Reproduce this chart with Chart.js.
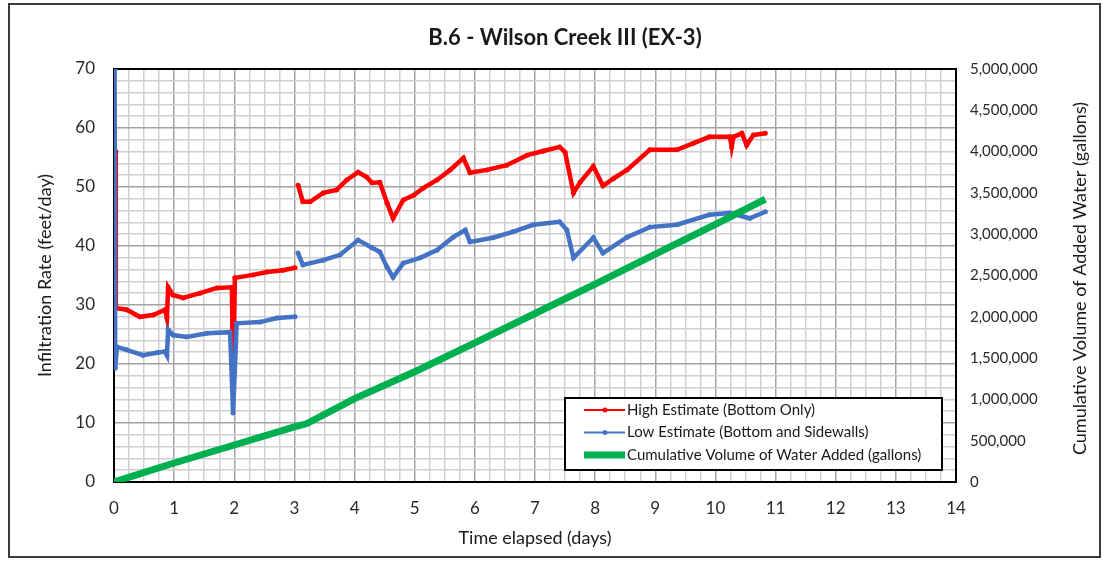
<!DOCTYPE html>
<html>
<head>
<meta charset="utf-8">
<title>B.6 - Wilson Creek III (EX-3)</title>
<script src="https://cdn.jsdelivr.net/npm/chart.js@4.4.1/dist/chart.umd.min.js"></script>
<style>
  body { margin: 0; background: #fff; }
  #wrap { width: 1104px; height: 562px; }
</style>
</head>
<body>
<div id="wrap"><canvas id="chart" width="1104" height="562"></canvas></div>
<script>
// Values
const highDays = [0, 0, 0.03, 0.03, 0.21, 0.43, 0.65, 0.85, 0.88, 0.9, 0.98, 1.15, 1.43, 1.71, 1.96, 1.98, 2.01, 2.31, 2.54, 2.81, 3.01,
    3.03, 3.06, 3.14, 3.26, 3.48, 3.7, 3.87, 4.06, 4.2, 4.29, 4.42, 4.54, 4.64, 4.81, 4.98, 5.14, 5.37, 5.59, 5.81, 5.92,
    6.2, 6.53, 6.87, 7.14, 7.41, 7.5, 7.64, 7.75, 7.97, 8.13, 8.3, 8.53, 8.91, 9.36, 9.63, 9.9, 10.24, 10.27, 10.3, 10.44,
    10.52, 10.63, 10.83];
const highRate = [52.5, 28, 56, 29.5, 29.2, 28, 28.3, 29.2, 27.8, 33, 31.7, 31.2, 32, 32.9, 33, 15, 34.6, 35.1, 35.6, 35.9, 36.3,
    null, 50.3, 47.5, 47.5, 49, 49.5, 51.2, 52.5, 51.7, 50.7, 50.8, 47.3, 44.7, 47.8, 48.6, 49.8, 51.2, 52.9, 54.9, 52.4,
    52.9, 53.7, 55.4, 56.1, 56.8, 55.9, 49, 50.8, 53.5, 50.2, 51.4, 52.9, 56.3, 56.3, 57.4, 58.5, 58.5, 56.8, 58.5, 59.1,
    57.1, 58.8, 59.1];

const lowDays = [0, 0.01, 0.02, 0.05, 0.21, 0.48, 0.71, 0.85, 0.88, 0.9, 0.98, 1.21, 1.55, 1.93, 1.98, 2.04, 2.43, 2.71, 3.01,
    3.03, 3.06, 3.14, 3.48, 3.76, 4.06, 4.29, 4.42, 4.54, 4.64, 4.81, 5.09, 5.37, 5.64, 5.84, 5.92, 6.3, 6.63, 6.97,
    7.41, 7.53, 7.64, 7.97, 8.13, 8.53, 8.91, 9.36, 9.9, 10.24, 10.57, 10.83];
const lowRate = [41, 72, 19.3, 22.9, 22.4, 21.5, 21.9, 22.1, 21.5, 25.8, 24.9, 24.6, 25.2, 25.4, 11.7, 26.9, 27.1, 27.8, 28,
    null, 38.8, 36.8, 37.6, 38.5, 41, 39.7, 39, 36.4, 34.7, 37.1, 38, 39.3, 41.5, 42.7, 40.7, 41.4, 42.4, 43.6,
    44.1, 42.7, 38, 41.4, 38.8, 41.5, 43.2, 43.6, 45.3, 45.6, 44.7, 45.8];

const volDays = [0, 1, 2, 3, 3.2, 4, 5, 6, 7, 8, 9, 10, 10.83];
const volGallons = [0, 230000, 448000, 666000, 705000, 1010000, 1335000, 1685000, 2040000, 2395000, 2760000, 3120000, 3426000];

const FONT = "Lato, 'Open Sans', sans-serif";

function toPoints(xs, ys) {
    return xs.map((x, i) => ({ x: x, y: ys[i] }));
}

// Black frame around the plot area, under the data lines
const framePlugin = {
    id: "frame",
    beforeDatasetsDraw(chart) {
        const { ctx, chartArea: a } = chart;
        ctx.save();
        ctx.strokeStyle = "#000";
        ctx.lineWidth = 2;
        ctx.strokeRect(a.left, a.top, a.right - a.left, a.bottom - a.top);
        ctx.restore();
    }
};

// Boxed legend inside the plot, lower right
const legendBoxPlugin = {
    id: "legendBox",
    afterDraw(chart) {
        const ctx = chart.ctx;
        const box = { x: 565, y: 398, w: 377, h: 72 };
        ctx.save();
        ctx.fillStyle = "#fff";
        ctx.fillRect(box.x, box.y, box.w, box.h);
        ctx.strokeStyle = "#000";
        ctx.lineWidth = 2;
        ctx.strokeRect(box.x, box.y, box.w, box.h);
        ctx.font = "15px " + FONT;
        ctx.textBaseline = "middle";
        chart.data.datasets.forEach((ds, i) => {
            const y = box.y + 12 + i * 22.5;
            ctx.strokeStyle = ds.borderColor;
            ctx.lineWidth = ds.pointRadius ? 2 : ds.borderWidth;
            ctx.beginPath();
            ctx.moveTo(box.x + 19, y);
            ctx.lineTo(box.x + 60, y);
            ctx.stroke();
            if (ds.pointRadius) {
                ctx.fillStyle = ds.borderColor;
                ctx.beginPath();
                ctx.arc(box.x + 40, y, 2.5, 0, Math.PI * 2);
                ctx.fill();
            }
            ctx.fillStyle = "#1a1a1a";
            ctx.fillText(ds.label, box.x + 62, y);
        });
        ctx.restore();
    }
};

// Chart title, right axis title (reads bottom-to-top) and the outer border
const extrasPlugin = {
    id: "extras",
    afterDraw(chart) {
        const { ctx, chartArea: a } = chart;
        ctx.save();
        ctx.font = "bold 22px " + FONT;
        ctx.fillStyle = "#1a1a1a";
        ctx.textAlign = "center";
        ctx.textBaseline = "middle";
        ctx.fillText("B.6 - Wilson Creek III (EX-3)", 565, 38);
        ctx.restore();

        ctx.save();
        ctx.translate(1080, (a.top + a.bottom) / 2 + 3);
        ctx.rotate(-Math.PI / 2);
        ctx.font = "18px " + FONT;
        ctx.fillStyle = "#1a1a1a";
        ctx.textAlign = "center";
        ctx.textBaseline = "middle";
        ctx.fillText("Cumulative Volume of Added Water (gallons)", 0, 0);
        ctx.restore();

        ctx.save();
        ctx.strokeStyle = "#3a3a3a";
        ctx.lineWidth = 2;
        ctx.strokeRect(9, 4, 1091, 553);
        ctx.restore();
    }
};

const minorGrid = "#cfcfcf";
const majorGrid = "#a3a3a3";

new Chart(document.getElementById("chart"), {
    type: "line",
    data: {
        datasets: [
            {
                label: "High Estimate (Bottom Only)",
                data: toPoints(highDays, highRate),
                borderColor: "#ff0000",
                backgroundColor: "#ff0000",
                borderWidth: 4.5,
                pointRadius: 2.5,
                pointBorderWidth: 0,
                spanGaps: false,
                yAxisID: "y",
                order: 2
            },
            {
                label: "Low Estimate (Bottom and Sidewalls)",
                data: toPoints(lowDays, lowRate),
                borderColor: "#4472c4",
                backgroundColor: "#4472c4",
                borderWidth: 4.5,
                pointRadius: 2.5,
                pointBorderWidth: 0,
                spanGaps: false,
                yAxisID: "y",
                order: 1
            },
            {
                label: "Cumulative Volume of Water Added (gallons)",
                data: toPoints(volDays, volGallons),
                borderColor: "#00b050",
                backgroundColor: "#00b050",
                borderWidth: 7,
                pointRadius: 0,
                yAxisID: "y2",
                order: 0
            }
        ]
    },
    options: {
        responsive: false,
        animation: false,
        layout: { padding: { top: 69, left: 0, right: 0, bottom: 0 } },
        plugins: {
            legend: { display: false },
            tooltip: { enabled: false },
            title: { display: false }
        },
        scales: {
            x: {
                type: "linear",
                min: 0,
                max: 14,
                afterFit: s => { s.height = 80; },
                border: { display: false },
                grid: {
                    drawTicks: false,
                    lineWidth: 1.5,
                    color: c => Number.isInteger(c.tick.value) ? majorGrid : minorGrid
                },
                ticks: {
                    stepSize: 0.25,
                    autoSkip: false,
                    maxRotation: 0,
                    padding: 16,
                    color: "#2a2a2a",
                    font: { family: FONT, size: 17 },
                    callback: v => Number.isInteger(v) ? v : ""
                },
                title: {
                    display: true,
                    text: "Time elapsed (days)",
                    color: "#1a1a1a",
                    font: { family: FONT, size: 18 },
                    padding: { top: 0, bottom: 13 }
                }
            },
            y: {
                position: "left",
                min: 0,
                max: 70,
                afterFit: s => { s.width = 114; },
                border: { display: false },
                grid: {
                    drawTicks: false,
                    lineWidth: 1.5,
                    color: c => c.tick.value % 10 === 0 ? majorGrid : minorGrid
                },
                ticks: {
                    stepSize: 2,
                    autoSkip: false,
                    padding: 19,
                    color: "#2a2a2a",
                    font: { family: FONT, size: 17 },
                    callback: v => v % 10 === 0 ? v : ""
                },
                title: {
                    display: true,
                    text: "Infiltration Rate (feet/day)",
                    color: "#1a1a1a",
                    font: { family: FONT, size: 18 },
                    padding: { top: 34, bottom: 0 }
                }
            },
            y2: {
                position: "right",
                min: 0,
                max: 5000000,
                afterFit: s => { s.width = 148; },
                border: { display: false },
                grid: { display: false, drawTicks: false },
                ticks: {
                    stepSize: 500000,
                    padding: 14,
                    color: "#2a2a2a",
                    font: { family: FONT, size: 15 },
                    callback: v => v.toLocaleString("en-US")
                }
            }
        }
    },
    plugins: [framePlugin, legendBoxPlugin, extrasPlugin]
});
</script>
</body>
</html>
